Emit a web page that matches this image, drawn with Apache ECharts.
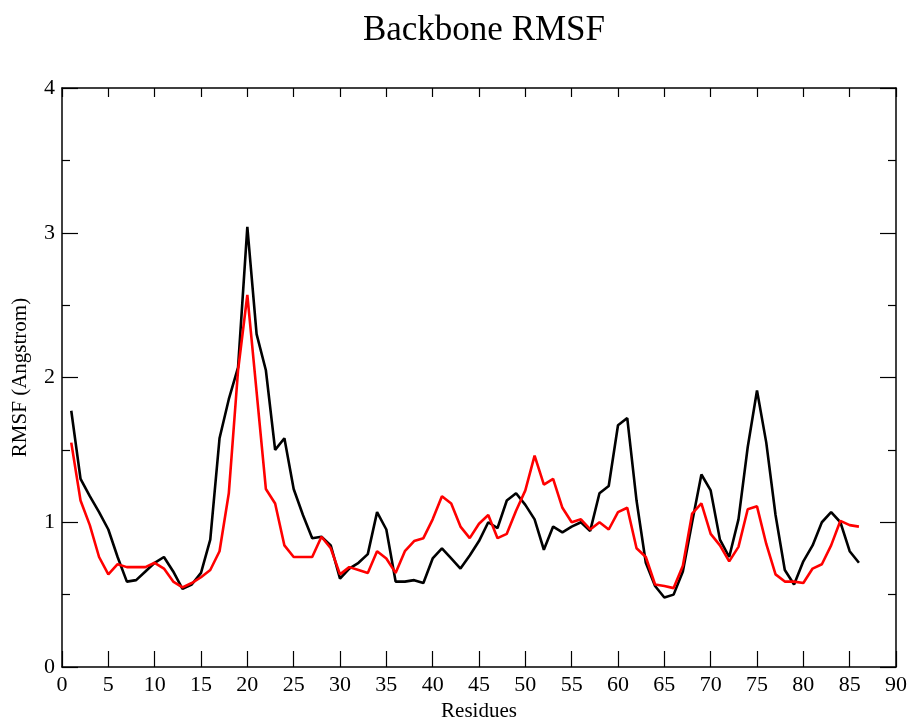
<!DOCTYPE html>
<html>
<head>
<meta charset="utf-8">
<script src="https://cdn.jsdelivr.net/npm/echarts@6/dist/echarts.min.js"></script>
<style>
html,body{margin:0;padding:0;background:#fff;}
#chart{width:910px;height:727px;}
</style>
</head>
<body>
<div id="chart"></div>
<script>
var residues = [];
for (var i = 1; i <= 86; i++) residues.push(i);

var blackRMSF = [1.77,1.30,1.18,1.07,0.95,0.76,0.59,0.60,0.66,0.72,
0.76,0.66,0.54,0.57,0.65,0.88,1.58,1.85,2.07,3.04,
2.30,2.05,1.50,1.58,1.23,1.05,0.89,0.90,0.84,0.61,
0.68,0.72,0.78,1.07,0.95,0.59,0.59,0.60,0.58,0.75,
0.82,0.75,0.68,0.77,0.87,1.00,0.96,1.15,1.20,1.12,
1.02,0.81,0.97,0.93,0.97,1.00,0.94,1.20,1.25,1.67,
1.72,1.15,0.72,0.56,0.48,0.50,0.66,1.00,1.33,1.22,
0.88,0.76,1.02,1.52,1.91,1.55,1.05,0.67,0.57,0.73,
0.84,1.00,1.07,1.00,0.80,0.72];

var redRMSF = [1.55,1.15,0.98,0.76,0.64,0.71,0.69,0.69,0.69,0.72,
0.68,0.59,0.55,0.58,0.62,0.67,0.80,1.20,2.05,2.57,
1.90,1.23,1.13,0.84,0.76,0.76,0.76,0.90,0.82,0.64,
0.69,0.67,0.65,0.80,0.75,0.65,0.80,0.87,0.89,1.02,
1.18,1.13,0.97,0.89,0.99,1.05,0.89,0.92,1.08,1.22,
1.46,1.26,1.30,1.10,1.00,1.02,0.95,1.00,0.95,1.07,
1.10,0.82,0.76,0.57,0.56,0.545,0.70,1.06,1.13,0.92,
0.84,0.73,0.83,1.09,1.11,0.85,0.64,0.59,0.59,0.58,
0.68,0.71,0.84,1.01,0.98,0.97];

function pairs(xs, ys) {
  return xs.map(function (x, i) { return [x, ys[i]]; });
}

var serif = '"Liberation Serif", "DejaVu Serif", serif';
var chart = echarts.init(document.getElementById('chart'), null, {renderer: 'canvas'});

var axisLine = {show: true, onZero: false, lineStyle: {color: '#000', width: 1.5}};
var tickStyle = {color: '#000', width: 1.2};

chart.setOption({
  animation: false,
  backgroundColor: '#fff',
  title: {
    text: 'Backbone RMSF',
    left: 479, top: 8, textAlign: 'center',
    textStyle: {fontFamily: serif, fontSize: 35, fontWeight: 'normal', color: '#000'}
  },
  grid: {left: 62, right: 14, top: 88, bottom: 54, containLabel: false},
  xAxis: [{
    type: 'value', min: 0, max: 90, interval: 5, position: 'bottom',
    name: 'Residues', nameLocation: 'middle', nameGap: 34,
    nameTextStyle: {fontFamily: serif, fontSize: 21, color: '#000'},
    axisLine: axisLine,
    axisTick: {show: true, inside: true, length: 16, lineStyle: tickStyle},
    axisLabel: {fontFamily: serif, fontSize: 22, color: '#000', margin: 7},
    splitLine: {show: false}
  }, {
    type: 'value', min: 0, max: 90, interval: 5, position: 'top',
    axisLine: axisLine,
    axisTick: {show: true, inside: true, length: 9, lineStyle: tickStyle},
    axisLabel: {show: false},
    splitLine: {show: false}
  }],
  yAxis: [{
    type: 'value', min: 0, max: 4, interval: 1, position: 'left',
    name: 'RMSF (Angstrom)', nameLocation: 'middle', nameGap: 31, nameRotate: 90,
    nameTextStyle: {fontFamily: serif, fontSize: 21, color: '#000'},
    axisLine: axisLine,
    axisTick: {show: true, inside: true, length: 16, lineStyle: tickStyle},
    minorTick: {show: true, splitNumber: 2, length: 8, lineStyle: tickStyle},
    axisLabel: {fontFamily: serif, fontSize: 22, color: '#000', margin: 7},
    splitLine: {show: false}
  }, {
    type: 'value', min: 0, max: 4, interval: 1, position: 'right',
    axisLine: axisLine,
    axisTick: {show: true, inside: true, length: 16, lineStyle: tickStyle},
    minorTick: {show: true, splitNumber: 2, length: 8, lineStyle: tickStyle},
    axisLabel: {show: false},
    splitLine: {show: false}
  }],
  series: [{
    name: 'black', type: 'line', xAxisIndex: 0, yAxisIndex: 0,
    data: pairs(residues, blackRMSF), showSymbol: false, symbol: 'none',
    lineStyle: {color: '#000', width: 2.6}, z: 2
  }, {
    name: 'red', type: 'line', xAxisIndex: 0, yAxisIndex: 0,
    data: pairs(residues, redRMSF), showSymbol: false, symbol: 'none',
    lineStyle: {color: '#ff0000', width: 2.6}, z: 3
  }]
});
</script>
</body>
</html>
